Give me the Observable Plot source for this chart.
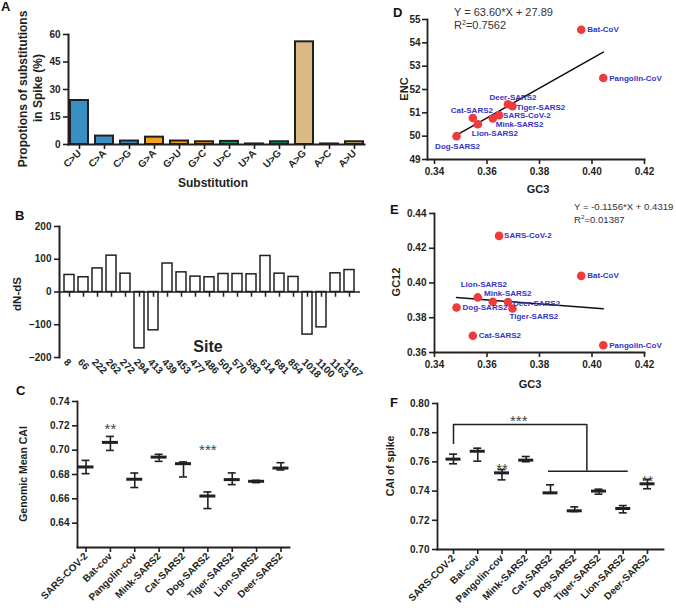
<!DOCTYPE html>
<html>
<head>
<meta charset="utf-8">
<script src="https://cdn.jsdelivr.net/npm/d3@7"></script>
<script src="https://cdn.jsdelivr.net/npm/@observablehq/plot@0.6"></script>
<style>
  body { margin: 0; background: #fff; }
  #fig { position: relative; width: 676px; height: 615px; overflow: hidden; background: #fff;
         font-family: "Liberation Sans", Arial, Helvetica, sans-serif; }
  .letter { position: absolute; font: bold 13px "Liberation Sans", Arial, sans-serif; color: #111; line-height: 1; }
</style>
</head>
<body>
<div id="fig"></div>
<script>
// ---------------- DATA ----------------
// Panel A
const substitutions = ["C>U","C>A","C>G","G>A","G>U","G>C","U>C","U>A","U>G","A>G","A>C","A>U"];
const substitutionPct = [24.0, 4.6, 1.9, 4.0, 1.9, 1.5, 1.7, 0.3, 1.5, 56.0, 0.3, 1.5];
const substitutionFrom = ["C","C","C","G","G","G","U","U","U","A","A","A"];

// Panel B
const sites = ["8","66","222","262","272","294","413","439","453","477","486","501","570","583","614","681","854","1018","1100","1163","1167"];
const dNminusdS = [52, 45, 72, 111, 56, -172, -117, 87, 60, 47, 45, 55, 55, 54, 110, 56, 46, -130, -108, 57, 67];

// Panel C (genomic mean CAI)
const hosts = ["SARS-COV-2","Bat-cov","Pangolin-cov","Mink-SARS2","Cat-SARS2","Dog-SARS2","Tiger-SARS2","Lion-SARS2","Deer-SARS2"];
const caiMean = [0.6862, 0.7064, 0.6761, 0.6943, 0.6889, 0.6623, 0.6758, 0.6744, 0.6853];
const caiMin  = [0.6807, 0.6998, 0.6693, 0.6908, 0.6780, 0.6520, 0.6717, 0.6733, 0.6837];
const caiMax  = [0.6916, 0.7113, 0.6812, 0.6966, 0.6903, 0.6657, 0.6813, 0.6752, 0.6897];
const caiStars = ["", "**", "", "", "", "***", "", "", ""];
const caiStarY = [null, 0.7205, null, null, null, 0.7031, null, null, null];

// Panels D & E
const virusNames = ["SARS-CoV-2","Bat-CoV","Pangolin-CoV","Mink-SARS2","Cat-SARS2","Dog-SARS2","Tiger-SARS2","Lion-SARS2","Deer-SARS2"];
const gc3  = [0.3646, 0.3959, 0.4043, 0.3622, 0.3546, 0.3484, 0.3697, 0.3565, 0.3680];
const enc  = [50.90, 54.56, 52.49, 50.76, 50.78, 50.00, 51.28, 50.51, 51.37];
const gc12 = [0.4271, 0.4041, 0.3642, 0.3892, 0.3696, 0.3859, 0.3853, 0.3917, 0.3890];
const encFit  = {slope: "63.60", intercept: "27.89", r2: "0.7562"};
const gc12Fit = {slope: "-0.1156", intercept: "0.4319", r2: "0.01387"};

// Panel F (CAI of spike)
const spikeMean = [0.7619, 0.7673, 0.7525, 0.7612, 0.7388, 0.7265, 0.7400, 0.7281, 0.7450];
const spikeMin  = [0.7587, 0.7605, 0.7477, 0.7601, 0.7385, 0.7260, 0.7379, 0.7251, 0.7416];
const spikeMax  = [0.7653, 0.7694, 0.7548, 0.7637, 0.7443, 0.7292, 0.7413, 0.7301, 0.7479];
const spikeStars = ["", "", "**", "", "", "", "", "", "**"];
const spikeStarY = [null, null, 0.7575, null, null, null, null, null, 0.7495];
const bracket = {fromHost: "SARS-COV-2", groupFrom: "Cat-SARS2", groupTo: "Lion-SARS2", labelHost: "Mink-SARS2",
                 stemY: 0.7719, topY: 0.7856, groupY: 0.7536, label: "***", labelY: 0.7906};

// ---------------- LAYOUT / STYLE ----------------
const FONT = "'Liberation Sans', Arial, Helvetica, sans-serif";
const INK = "#231f20";
const baseStyle = {background: "transparent", fontFamily: FONT, fontSize: "10px", fontWeight: "bold",
                   color: INK, overflow: "visible"};
const axisOpts = {fontWeight: "bold", fontSize: 10, strokeWidth: 1.6, label: null};
const fig = document.getElementById("fig");

function place(svg, left, top) {
  svg.style.position = "absolute";
  svg.style.left = left + "px";
  svg.style.top = top + "px";
  svg.style.maxWidth = "none";
  fig.appendChild(svg);
  return d3.select(svg);
}
function addText(sel, x, y, text, o = {}) {
  const t = sel.append("text").attr("x", x).attr("y", y).text(text)
    .attr("font-family", FONT).attr("font-size", o.size || 12)
    .attr("font-weight", o.weight || "bold").attr("fill", o.fill || INK)
    .attr("text-anchor", o.anchor || "middle");
  if (o.rotate) t.attr("transform", `rotate(${o.rotate},${x},${y})`);
  return t;
}
function addLetter(ch, left, top) {
  const d = document.createElement("div");
  d.className = "letter"; d.textContent = ch;
  d.style.left = left + "px"; d.style.top = top + "px";
  fig.appendChild(d);
}
function equation(sel, x, y, fit, size) {
  addText(sel, x, y, `Y = ${fit.slope}*X + ${fit.intercept}`, {size, weight: "normal", anchor: "start", fill: "#333"});
  const t = addText(sel, x, y + 13, "R", {size, weight: "normal", anchor: "start", fill: "#333"});
  t.append("tspan").attr("font-size", size * 0.65).attr("dy", -4).text("2");
  t.append("tspan").attr("dy", 4).text("=" + fit.r2);
}

// ---------------- PANEL A ----------------
const dataA = substitutions.map((s, i) => ({sub: s, pct: substitutionPct[i], from: substitutionFrom[i]}));
const svgA = Plot.plot({
  width: 372, height: 200, marginLeft: 68, marginRight: 8, marginTop: 34, marginBottom: 56,
  style: baseStyle,
  x: {domain: substitutions, paddingInner: 0.3, paddingOuter: 0, label: null},
  y: {domain: [0, 60], label: null},
  color: {domain: ["C", "G", "U", "A"], range: ["#3a8fc2", "#f2a11e", "#17996b", "#d9ba84"]},
  marks: [
    Plot.barY(dataA, {x: "sub", y: "pct", fill: "from", stroke: INK, strokeWidth: 2}),
    Plot.axisY({...axisOpts, ticks: [0, 15, 30, 45, 60], tickSize: 5, tickPadding: 3}),
    Plot.axisX({...axisOpts, tickRotate: -45, tickSize: 5, tickPadding: 2}),
    Plot.frame({anchor: "left", strokeWidth: 2, stroke: INK}),
    Plot.frame({anchor: "bottom", strokeWidth: 2, stroke: INK})
  ]
});
const gA = place(svgA, 0, 0);
addText(gA, 26.5, 89, "Propotions of substitutions", {size: 12, rotate: -90});
addText(gA, 41.5, 88, "in Spike (%)", {size: 12, rotate: -90});
addText(gA, 213, 187, "Substitution", {size: 12});

// ---------------- PANEL B ----------------
const dataB = sites.map((s, i) => ({site: s, v: dNminusdS[i]}));
const svgB = Plot.plot({
  width: 372, height: 200, marginLeft: 59, marginRight: 12, marginTop: 26, marginBottom: 43,
  style: baseStyle,
  x: {domain: sites, paddingInner: 0.28, paddingOuter: 0.18, label: null},
  y: {domain: [-200, 200], label: null},
  marks: [
    Plot.barY(dataB, {x: "site", y: "v", fill: "white", stroke: INK, strokeWidth: 1.5}),
    Plot.ruleY([0], {stroke: INK, strokeWidth: 1.6}),
    Plot.ruleX(dataB, {x: "site", y1: 0, y2: -16, stroke: INK, strokeWidth: 1.5}),
    Plot.axisY({...axisOpts, ticks: [-200, -100, 0, 100, 200], tickSize: 5, tickPadding: 3}),
    Plot.axisX({...axisOpts, tickRotate: 45, tickSize: 0, tickPadding: 3, dx: -4}),
    Plot.frame({anchor: "left", strokeWidth: 2, stroke: INK})
  ]
});
const gB = place(svgB, 0, 200);
addText(gB, 21, 94, "dN-dS", {size: 11.5, rotate: -90});
addText(gB, 208, 152, "Site", {size: 16});

// ---------------- helper for CAI panels ----------------
function caiMarks(data, meanHalf, capHalf) {
  return [
    Plot.ruleX(data, {x: "host", y1: "min", y2: "max", stroke: INK, strokeWidth: 1.6}),
    Plot.tickY(data, {x: "host", y: "min", insetLeft: -capHalf, insetRight: -capHalf, stroke: INK, strokeWidth: 1.6}),
    Plot.tickY(data, {x: "host", y: "max", insetLeft: -capHalf, insetRight: -capHalf, stroke: INK, strokeWidth: 1.6}),
    Plot.tickY(data, {x: "host", y: "mean", insetLeft: -meanHalf, insetRight: -meanHalf, stroke: INK, strokeWidth: 3}),
    Plot.text(data.filter(d => d.star), {x: "host", y: "starY", text: "star", fontSize: 15, fontWeight: "normal", fill: "#444", dy: 4})
  ];
}

// ---------------- PANEL C ----------------
const dataC = hosts.map((h, i) => ({host: h, mean: caiMean[i], min: caiMin[i], max: caiMax[i], star: caiStars[i], starY: caiStarY[i]}));
const svgC = Plot.plot({
  width: 300, height: 235, marginLeft: 77, marginRight: 11, marginTop: 21, marginBottom: 68,
  style: baseStyle,
  x: {type: "band", domain: hosts, paddingInner: 1, paddingOuter: 0.35, round: false, label: null},
  y: {domain: [0.62, 0.74], label: null},
  marks: [
    ...caiMarks(dataC, 8, 4),
    Plot.axisY({...axisOpts, ticks: [0.64, 0.66, 0.68, 0.70, 0.72, 0.74], tickFormat: d3.format(".2f"), tickSize: 5, tickPadding: 3}),
    Plot.axisX({...axisOpts, tickRotate: -45, tickSize: 5, tickPadding: 2}),
    Plot.frame({anchor: "left", strokeWidth: 1.8, stroke: INK}),
    Plot.frame({anchor: "bottom", strokeWidth: 1.8, stroke: INK})
  ]
});
const gC = place(svgC, 0, 380);
addText(gC, 27, 94, "Genomic Mean CAI", {size: 10.5, rotate: -90});

// ---------------- PANEL D ----------------
const dataDE = virusNames.map((n, i) => ({name: n, gc3: gc3[i], enc: enc[i], gc12: gc12[i]}));
const gcExtent = d3.extent(gc3);
const fitD = gcExtent.map(x => ({x, y: +encFit.slope * x + +encFit.intercept}));
const fitE = gcExtent.map(x => ({x, y: +gc12Fit.slope * x + +gc12Fit.intercept}));
const BLUE = "#3434c6", RED = "#ee3b3b";

// label placement: [textAnchor, dx, dy]
const placeD = {
  "Bat-CoV": ["start", 6, 0], "Pangolin-CoV": ["start", 6, 0], "Deer-SARS2": ["middle", 5, -7],
  "Tiger-SARS2": ["start", 4, 1], "SARS-CoV-2": ["start", 4, 0], "Mink-SARS2": ["start", 3, 6],
  "Cat-SARS2": ["middle", -1, -8], "Lion-SARS2": ["start", -6, 9], "Dog-SARS2": ["middle", 1, 10]
};
const placeE = {
  "SARS-CoV-2": ["start", 5, 0], "Bat-CoV": ["start", 6, 0], "Pangolin-CoV": ["start", 6, 0],
  "Lion-SARS2": ["middle", 6, -13], "Mink-SARS2": ["middle", 15, -8], "Deer-SARS2": ["start", 5, 1.5],
  "Dog-SARS2": ["start", 6, 0], "Tiger-SARS2": ["start", -3, 8], "Cat-SARS2": ["start", 6, 0]
};
function pointLabels(yField, placement) {
  return dataDE.map(d => {
    const [anchor, dx, dy] = placement[d.name];
    return Plot.text([d], {x: "gc3", y: yField, text: "name", textAnchor: anchor, dx, dy,
                           fill: BLUE, fontSize: 8, fontWeight: "bold"});
  });
}
const gcTicks = [0.34, 0.36, 0.38, 0.40, 0.42];

const svgD = Plot.plot({
  width: 336, height: 200, marginLeft: 87, marginRight: 32, marginTop: 19, marginBottom: 41,
  style: baseStyle,
  x: {domain: [0.34, 0.42], range: [94, 304], label: null},
  y: {domain: [49, 55], label: null},
  marks: [
    Plot.line(fitD, {x: "x", y: "y", stroke: "#111", strokeWidth: 1.5}),
    Plot.dot(dataDE, {x: "gc3", y: "enc", r: 4.3, fill: RED}),
    ...pointLabels("enc", placeD),
    Plot.axisY({...axisOpts, ticks: [49, 50, 51, 52, 53, 54, 55], tickFormat: d3.format("d"), tickSize: 5, tickPadding: 2}),
    Plot.axisX({...axisOpts, ticks: gcTicks, tickFormat: d3.format(".2f"), tickSize: 5, tickPadding: 3}),
    Plot.frame({anchor: "left", strokeWidth: 1.8, stroke: INK}),
    Plot.frame({anchor: "bottom", strokeWidth: 1.8, stroke: INK})
  ]
});
const gD = place(svgD, 340, 0);
addText(gD, 68, 89, "ENC", {size: 11, rotate: -90});
addText(gD, 198, 193, "GC3", {size: 11});
equation(gD, 114, 16, encFit, 11);

// ---------------- PANEL E ----------------
const svgE = Plot.plot({
  width: 336, height: 200, marginLeft: 94, marginRight: 32, marginTop: 13, marginBottom: 48,
  style: baseStyle,
  x: {domain: [0.34, 0.42], label: null},
  y: {domain: [0.36, 0.44], label: null},
  marks: [
    Plot.line(fitE, {x: "x", y: "y", stroke: "#111", strokeWidth: 1.5}),
    Plot.dot(dataDE, {x: "gc3", y: "gc12", r: 4.3, fill: RED}),
    ...pointLabels("gc12", placeE),
    Plot.axisY({...axisOpts, ticks: [0.36, 0.38, 0.40, 0.42, 0.44], tickFormat: d3.format(".2f"), tickSize: 5, tickPadding: 3}),
    Plot.axisX({...axisOpts, ticks: gcTicks, tickFormat: d3.format(".2f"), tickSize: 5, tickPadding: 3}),
    Plot.frame({anchor: "left", strokeWidth: 1.8, stroke: INK}),
    Plot.frame({anchor: "bottom", strokeWidth: 1.8, stroke: INK})
  ]
});
const gE = place(svgE, 340, 200);
addText(gE, 60, 82, "GC12", {size: 11, rotate: -90});
addText(gE, 190, 188, "GC3", {size: 11});
equation(gE, 234, 10, gc12Fit, 9.6);

// ---------------- PANEL F ----------------
const dataF = hosts.map((h, i) => ({host: h, mean: spikeMean[i], min: spikeMin[i], max: spikeMax[i], star: spikeStars[i], starY: spikeStarY[i]}));
const stepF = 24.25;
const svgF = Plot.plot({
  width: 336, height: 235, marginLeft: 97, marginRight: 13, marginTop: 23, marginBottom: 66,
  style: baseStyle,
  x: {type: "band", domain: hosts, paddingInner: 1, paddingOuter: 0.66, round: false, label: null},
  y: {domain: [0.70, 0.80], label: null},
  marks: [
    ...caiMarks(dataF, 7.5, 4),
    // significance bracket
    Plot.ruleX([bracket], {x: "fromHost", y1: "stemY", y2: "topY", stroke: INK, strokeWidth: 1.5}),
    Plot.ruleY([bracket], {y: "topY", x1: "fromHost", x2: "groupTo", insetRight: 1.5 * stepF, stroke: INK, strokeWidth: 1.5}),
    Plot.ruleX([bracket], {x: "groupTo", y1: "groupY", y2: "topY", dx: -1.5 * stepF, stroke: INK, strokeWidth: 1.5}),
    Plot.ruleY([bracket], {y: "groupY", x1: "groupFrom", x2: "groupTo", insetLeft: -2, insetRight: -5, stroke: INK, strokeWidth: 1.5}),
    Plot.text([bracket], {x: "labelHost", y: "labelY", text: "label", dx: -7.5, dy: 4, fontSize: 15, fontWeight: "normal", fill: "#444"}),
    Plot.axisY({...axisOpts, ticks: [0.70, 0.72, 0.74, 0.76, 0.78, 0.80], tickFormat: d3.format(".2f"), tickSize: 5, tickPadding: 3}),
    Plot.axisX({...axisOpts, tickRotate: -45, tickSize: 5, tickPadding: 2}),
    Plot.frame({anchor: "left", strokeWidth: 1.8, stroke: INK}),
    Plot.frame({anchor: "bottom", strokeWidth: 1.8, stroke: INK})
  ]
});
const gF = place(svgF, 340, 380);
addText(gF, 54, 86, "CAI of spike", {size: 10.5, rotate: -90});

// ---------------- PANEL LETTERS ----------------
addLetter("A", 1, 0);
addLetter("B", 15, 209);
addLetter("C", 16, 384);
addLetter("D", 393, 6);
addLetter("E", 390, 203);
addLetter("F", 390, 396);
</script>
</body>
</html>
